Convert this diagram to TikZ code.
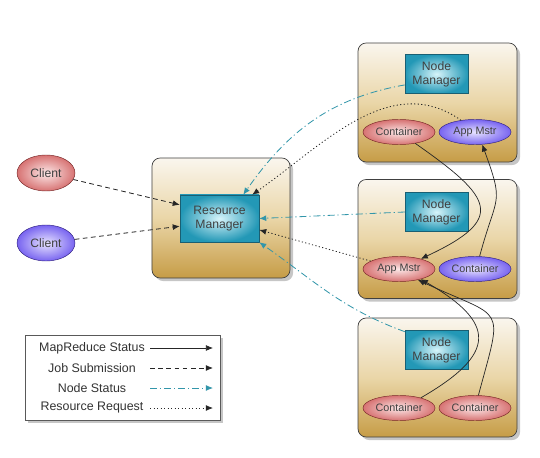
\documentclass[tikz,border=0pt]{standalone}
\usepackage{fontspec}
\setmainfont{Liberation Sans}
\usetikzlibrary{shapes.geometric,shadows,arrows.meta}

\definecolor{boxtop}{RGB}{250,246,238}
\definecolor{boxmid}{RGB}{234,214,168}
\definecolor{boxbot}{RGB}{198,156,70}
\definecolor{mgrin}{RGB}{215,244,250}
\definecolor{mgrout}{RGB}{35,152,182}
\definecolor{mgrline}{RGB}{25,95,115}
\definecolor{redin}{RGB}{252,232,232}
\definecolor{redout}{RGB}{215,115,115}
\definecolor{redline}{RGB}{120,40,40}
\definecolor{bluein}{RGB}{232,228,255}
\definecolor{blueout}{RGB}{120,100,240}
\definecolor{blueline}{RGB}{50,35,130}
\definecolor{nscolor}{RGB}{50,150,170}

\tikzset{
  nodebox/.style={draw=black!75, line width=0.6pt, rounded corners=7pt,
    top color=boxtop, bottom color=boxbot, middle color=boxmid,
    drop shadow={opacity=0.45}, minimum width=4.77cm, minimum height=3.57cm},
  mgr/.style={draw=mgrline, inner color=mgrin, outer color=mgrout,
    minimum width=1.89cm, minimum height=1.17cm, inner sep=1pt,
    align=center, text=black!75, font=\fontsize{10.4}{12}\selectfont},
  redell/.style={ellipse, draw=redline, inner color=redin, outer color=redout,
    minimum width=2.16cm, minimum height=0.75cm, inner sep=0pt,
    text=black!75, font=\fontsize{9.2}{11}\selectfont},
  blueell/.style={redell, draw=blueline, inner color=bluein, outer color=blueout},
  mrstat/.style={-{Latex[length=6pt,width=5pt]}, black!85, line width=0.6pt},
  jobsub/.style={-{Latex[length=6pt,width=5pt]}, black!85, line width=0.7pt,
    dash pattern=on 4pt off 3pt},
  nodestat/.style={-{Latex[length=6pt,width=5pt]}, nscolor, line width=0.7pt,
    dash pattern=on 6pt off 2.5pt on 1pt off 2.5pt},
  resreq/.style={-{Latex[length=6pt,width=5pt]}, black!85, line width=0.7pt,
    dash pattern=on 1pt off 2pt},
}

\begin{document}
\begin{tikzpicture}[x=0.03cm, y=0.03cm]
    \useasboundingbox (0,0) rectangle (540,-458);

    % Draw boxes
    \node[nodebox, minimum width=4.14cm, minimum height=3.6cm] (rmbox) at (221,-218) {};
    \node[nodebox] (box1) at (437.5,-102.5) {};
    \node[nodebox] (box2) at (437.5,-239) {};
    \node[nodebox] (box3) at (437.5,-377.5) {};

    % Draw managers
    \node[mgr, minimum width=2.37cm, minimum height=1.41cm] (rm) at (219.5,-218.5) {Resource\\Manager};
    \node[mgr] (nm1) at (436.5,-74) {Node\\Manager};
    \node[mgr] (nm2) at (436.5,-212) {Node\\Manager};
    \node[mgr] (nm3) at (436.5,-350) {Node\\Manager};

    % Draw clients, containers and app masters
    \node[redell, minimum width=1.74cm, minimum height=1.08cm, font=\fontsize{10.4}{12}\selectfont] (cl1) at (46,-173) {Client};
    \node[blueell, minimum width=1.74cm, minimum height=1.08cm, font=\fontsize{10.4}{12}\selectfont] (cl2) at (46,-243) {Client};
    \node[redell] (co1) at (399,-132) {Container};
    \node[blueell] (am1) at (475,-132) {App Mstr};
    \node[redell] (am2) at (399,-269) {App Mstr};
    \node[blueell] (co2) at (475,-269) {Container};
    \node[redell] (co3a) at (399,-408) {Container};
    \node[redell] (co3b) at (475,-408) {Container};

    % Draw job submissions
    \draw[jobsub] (cl1) -- (rm.161);
    \draw[jobsub] (cl2) -- (rm.191);

    % Draw node status
    \draw[nodestat] (nm1.199) to[out=190, in=55] (rm.45);
    \draw[nodestat] (nm2.west) -- (rm.east);
    \draw[nodestat] (nm3.150) to[out=160, in=-35] (rm.south east);

    % Draw resource requests
    \draw[resreq] (am1.140) to[out=145, in=35] (rm.36);
    \draw[resreq] (am2) -- (rm.-16);

    % Draw MapReduce status
    \draw[mrstat] (co1.-35) to[out=-35, in=25, looseness=2.1] (am2.25);
    \draw[mrstat] (co2.70) to[out=75, in=-70, looseness=1.5] (am1.-60);
    \draw[mrstat] (co3a.25) to[out=30, in=-30, looseness=1.9] (am2.-25);
    \draw[mrstat] (co3b.75) to[out=75, in=-25, looseness=1.9] (am2.-30);

    % Draw legend
    \node[draw=black!65, fill=white, drop shadow={opacity=0.45},
          minimum width=5.85cm, minimum height=2.55cm] (legend) at (122.5,-377.5) {};
    \begin{scope}[every node/.style={text=black!80, font=\fontsize{10.6}{12}\selectfont}]
      \node (l1) at (92,-348) {MapReduce Status};
      \node (l2) at (92,-368) {Job Submission};
      \node (l3) at (92,-388) {Node Status};
      \node (l4) at (92,-408) {Resource Request};
    \end{scope}
    \coordinate (a1) at (150,-348); \coordinate (b1) at (213,-348);
    \coordinate (a2) at (150,-368); \coordinate (b2) at (213,-368);
    \coordinate (a3) at (150,-388); \coordinate (b3) at (213,-388);
    \coordinate (a4) at (150,-408); \coordinate (b4) at (213,-408);
    \draw[mrstat] (a1) -- (b1);
    \draw[jobsub] (a2) -- (b2);
    \draw[nodestat] (a3) -- (b3);
    \draw[resreq] (a4) -- (b4);
\end{tikzpicture}
\end{document}
